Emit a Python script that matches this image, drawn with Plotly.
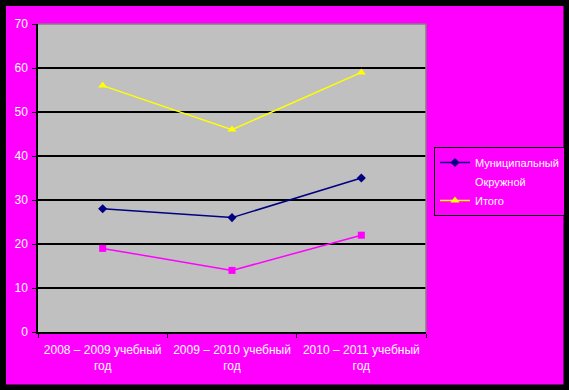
import plotly.graph_objects as go

categories = ["2008 – 2009 учебный<br>год", "2009 – 2010 учебный<br>год", "2010 – 2011 учебный<br>год"]
municipal = [28, 26, 35]
district = [19, 14, 22]
total = [56, 46, 59]
y_ticks = [0, 10, 20, 30, 40, 50, 60, 70]

W, H = 569, 390
L, R, T, B = 38, 426, 24, 332
pw, ph = R - L, B - T

def px(x):
    return (x - L) / pw

def py(y):
    return (B - y) / ph

font = dict(family="Liberation Sans, Arial, sans-serif", size=12, color="white")
legend_font = dict(family="Liberation Sans, Arial, sans-serif", size=11, color="white")

fig = go.Figure()
fig.add_trace(go.Scatter(x=categories, y=municipal, name="Муниципальный", mode="lines+markers",
                         line=dict(color="#000080", width=1.5),
                         marker=dict(symbol="diamond", size=7, color="#000080")))
fig.add_trace(go.Scatter(x=categories, y=district, name="Окружной", mode="lines+markers",
                         line=dict(color="#FF00FF", width=1.5),
                         marker=dict(symbol="square", size=7, color="#FF00FF")))
fig.add_trace(go.Scatter(x=categories, y=total, name="Итого", mode="lines+markers",
                         line=dict(color="#FFFF00", width=1.5),
                         marker=dict(symbol="triangle-up", size=8, color="#FFFF00")))

fig.update_layout(
    width=W, height=H,
    margin=dict(l=L, r=W - R, t=T, b=H - B, pad=0, autoexpand=False),
    paper_bgcolor="#FF00FF",
    plot_bgcolor="#C0C0C0",
    font=font,
    showlegend=True,
    legend=dict(x=px(434), y=py(147), xanchor="left", yanchor="top",
                bgcolor="#FF00FF", bordercolor="black", borderwidth=1,
                font=legend_font, tracegroupgap=0, itemwidth=30),
    xaxis=dict(type="category", showgrid=False, showline=True, linecolor="black", linewidth=1.5,
               ticks="outside", ticklen=4, tickcolor="black", tickson="boundaries",
               range=[-0.5, 2.5], tickfont=font, tickangle=0, zeroline=False, automargin=False,
               ticklabelstandoff=6),
    yaxis=dict(range=[0, 70], tickvals=y_ticks, showgrid=True, gridcolor="black", gridwidth=1.5,
               showline=True, linecolor="black", linewidth=1.5, ticks="outside", ticklen=4,
               tickcolor="black", tickfont=font, zeroline=False, automargin=False,
               ticklabelstandoff=2),
    shapes=[
        dict(type="line", xref="paper", yref="paper", x0=0, x1=1, y0=1, y1=1,
             line=dict(color="#808080", width=1.5), layer="above"),
        dict(type="line", xref="paper", yref="paper", x0=1, x1=1, y0=0, y1=1,
             line=dict(color="#808080", width=1.5), layer="above"),
        dict(type="rect", xref="paper", yref="paper",
             x0=px(3), x1=px(566.5), y0=py(387.5), y1=py(3),
             line=dict(color="black", width=6), fillcolor="rgba(0,0,0,0)", layer="above"),
    ],
)

fig.write_html("out.html", config={"displayModeBar": False},
               post_script="document.body.style.margin='0';document.body.style.background='black';")
